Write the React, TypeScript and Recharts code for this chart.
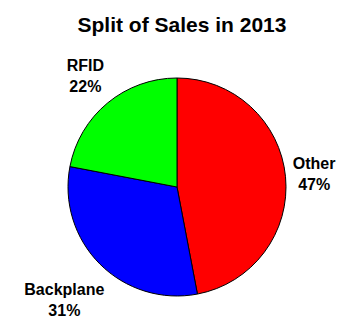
import { PieChart, Pie, Cell } from 'recharts';

const segments = ['Other', 'Backplane', 'RFID'];
const shares = [47, 31, 22];
const colors = ['#FF0000', '#0000FF', '#00FF00'];

const data = segments.map((name, i) => ({ name, value: shares[i] }));

const RADIAN = Math.PI / 180;

function renderLabel(props: any) {
  const { cx, cy, midAngle, outerRadius, name, value } = props;
  const ux = Math.cos(-midAngle * RADIAN);
  const uy = Math.sin(-midAngle * RADIAN);
  // rough text box size so the label sits just off the rim
  const w = name.length * 9;
  const h = 50;
  const ext = Math.abs(ux) * w / 2 + Math.abs(uy) * h / 2;
  const r = outerRadius + 4 + ext;
  const x = cx + r * ux;
  const y = cy + r * uy;
  return (
    <text
      x={x}
      y={y}
      textAnchor="middle"
      fill="#000"
      fontFamily="'Liberation Sans', Arial, sans-serif"
      fontWeight="bold"
      fontSize={16}
    >
      <tspan x={x} dy={-5}>{name}</tspan>
      <tspan x={x} dy={21}>{value}%</tspan>
    </text>
  );
}

export default function App() {
  return (
    <div style={{ position: 'absolute', left: 0, top: 0, width: 346, height: 324, background: '#fff' }}>
      <div
        style={{
          position: 'absolute',
          left: 0,
          top: 13,
          width: 364,
          textAlign: 'center',
          fontFamily: "'Liberation Sans', Arial, sans-serif",
          fontWeight: 'bold',
          fontSize: 21,
          lineHeight: '24px',
          color: '#000',
        }}
      >
        Split of Sales in 2013
      </div>
      <PieChart
        width={346}
        height={324}
        margin={{ top: 0, right: 0, bottom: 0, left: 0 }}
        style={{ position: 'absolute', left: 0, top: 0 }}
      >
        <Pie
          data={data}
          dataKey="value"
          nameKey="name"
          cx={177}
          cy={187}
          outerRadius={109}
          startAngle={90}
          endAngle={-270}
          stroke="#000"
          strokeWidth={1}
          label={renderLabel}
          labelLine={false}
          isAnimationActive={false}
        >
          {data.map((d, i) => (
            <Cell key={d.name} fill={colors[i]} />
          ))}
        </Pie>
      </PieChart>
    </div>
  );
}
